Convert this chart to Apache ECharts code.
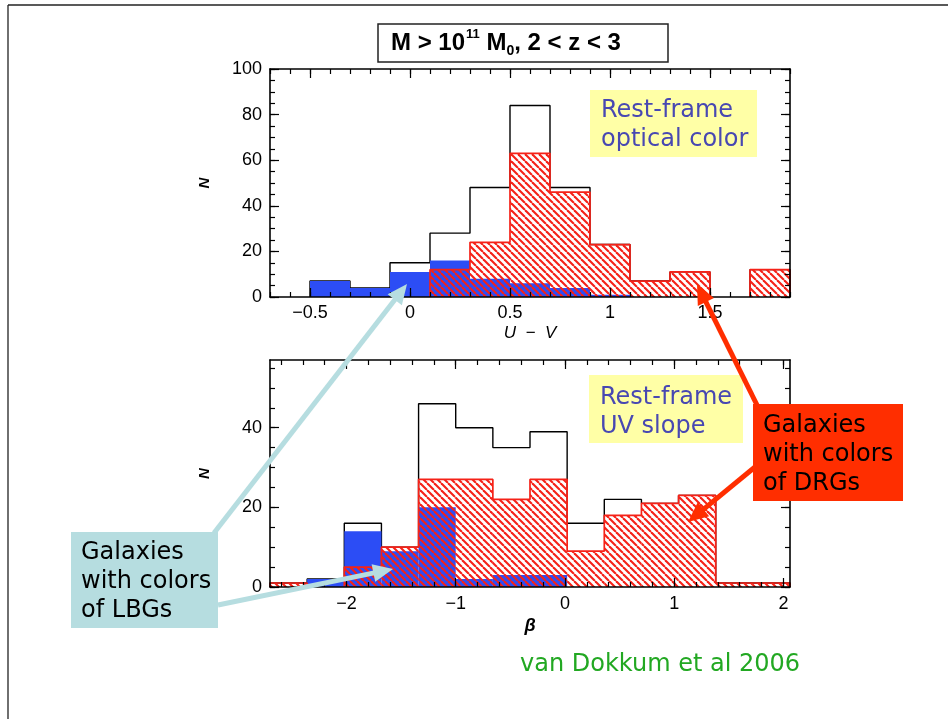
<!DOCTYPE html>
<html>
<head>
<meta charset="utf-8">
<script src="https://cdn.jsdelivr.net/npm/echarts@6/dist/echarts.min.js"></script>
<style>
  html, body { margin: 0; padding: 0; background: #ffffff; }
  #chart { width: 952px; height: 719px; }
</style>
</head>
<body>
<div id="chart"></div>
<script>
// ---- U − V histogram (bin edges, then counts per bin) ----
const uvEdges = [-0.5, -0.3, -0.1, 0.1, 0.3, 0.5, 0.7, 0.9, 1.1, 1.3, 1.5, 1.7, 1.9];
const uvAll   = [7, 4, 15, 28, 48, 84, 48, 23, 7, 11, 0, 12];
const uvLBG   = [7, 4, 11, 16, 8, 6, 4, 1, 0, 0, 0, 0];
const uvDRG   = [0, 0, 0, 12, 24, 63, 46, 23, 7, 11, 0, 12];

// ---- UV slope β histogram ----
const betaEdges = [-2.70, -2.36, -2.02, -1.68, -1.34, -1.00, -0.66, -0.32, 0.02, 0.36, 0.70, 1.04, 1.38, 1.72, 2.06];
const betaAll   = [1, 2, 16, 10, 46, 40, 35, 39, 16, 22, 21, 23, 1, 1];
const betaLBG   = [0, 2, 14, 9, 20, 2, 3, 3, 0, 0, 0, 0, 0, 0];
const betaDRG   = [1, 0, 5, 10, 27, 27, 22, 27, 9, 18, 21, 23, 1, 1];

// ---- tick labels ----
const uvTicks        = [-0.5, 0, 0.5, 1, 1.5];
const betaTicks      = [-2, -1, 0, 1, 2];
const uvCountTicks   = [0, 20, 40, 60, 80, 100];
const betaCountTicks = [0, 20, 40];

const BLUE = '#2c4df5';
const RED = '#f52218';

// diagonal "\" hatching used for the DRG bins
function hatchPattern() {
  const s = 7;
  const c = document.createElement('canvas');
  c.width = s; c.height = s;
  const g = c.getContext('2d');
  g.strokeStyle = RED;
  g.lineWidth = 2.1;
  for (let k = -1; k <= 1; k++) {
    g.beginPath();
    g.moveTo(k * s, 0);
    g.lineTo(k * s + s, s);
    g.stroke();
  }
  return { image: c, repeat: 'repeat' };
}
const HATCH = hatchPattern();

function minorRange(a, b, step) {
  const out = [];
  const n = Math.round((b - a) / step);
  for (let i = 0; i <= n; i++) out.push(+(a + i * step).toFixed(4));
  return out;
}

const fmt = v => (v < 0 ? '\u2212' + Math.abs(v) : String(v));

// bins as [left, right, count] rows
function bins(edges, counts) {
  return counts.map((c, i) => [edges[i], edges[i + 1], c]);
}

// step outline, split into runs of non-empty bins
function outlineRuns(edges, counts) {
  const runs = [];
  let cur = null;
  counts.forEach((c, i) => {
    if (c > 0) {
      if (!cur) { cur = [[edges[i], 0]]; }
      cur.push([edges[i], c], [edges[i + 1], c]);
    } else if (cur) {
      cur.push([cur[cur.length - 1][0], 0]);
      runs.push(cur); cur = null;
    }
  });
  if (cur) { cur.push([cur[cur.length - 1][0], 0]); runs.push(cur); }
  return runs;
}

function rectItem(fill) {
  return function (params, api) {
    const p0 = api.coord([api.value(0), api.value(2)]);
    const p1 = api.coord([api.value(1), 0]);
    return {
      type: 'rect',
      shape: { x: p0[0], y: p0[1], width: p1[0] - p0[0], height: p1[1] - p0[1] },
      style: { fill: fill, stroke: null }
    };
  };
}

function panelSeries(axisIdx, edges, all, lbg, drg) {
  const out = [];
  outlineRuns(edges, all).forEach(run => out.push({
    type: 'line', xAxisIndex: axisIdx, yAxisIndex: axisIdx, data: run,
    symbol: 'none', silent: true, z: 1, animation: false,
    lineStyle: { color: '#000', width: 1.4 }
  }));
  out.push({
    type: 'custom', xAxisIndex: axisIdx, yAxisIndex: axisIdx, z: 2, silent: true,
    encode: { x: [0, 1], y: 2 }, data: bins(edges, lbg).filter(b => b[2] > 0),
    renderItem: rectItem(BLUE), animation: false
  });
  out.push({
    type: 'custom', xAxisIndex: axisIdx, yAxisIndex: axisIdx, z: 3, silent: true,
    encode: { x: [0, 1], y: 2 }, data: bins(edges, drg).filter(b => b[2] > 0),
    renderItem: rectItem(HATCH), animation: false
  });
  outlineRuns(edges, drg).forEach(run => out.push({
    type: 'line', xAxisIndex: axisIdx, yAxisIndex: axisIdx, data: run,
    symbol: 'none', silent: true, z: 4, animation: false,
    lineStyle: { color: RED, width: 1.7 }
  }));
  return out;
}

const lineStyle = { color: '#000', width: 1.6 };
const tickStyle = { color: '#000', width: 1.2 };

function axisSet(dim, grid, min, max, majors, minors, label, name) {
  const sides = dim === 'x' ? ['bottom', 'top'] : ['left', 'right'];
  const axes = [];
  sides.forEach((pos, si) => {
    axes.push({
      type: 'value', gridIndex: grid, position: pos, min: min, max: max, z: 10,
      axisLine: { show: true, onZero: false, lineStyle: lineStyle },
      axisTick: { show: true, inside: true, length: 9, customValues: majors, lineStyle: tickStyle },
      axisLabel: si === 0 ? Object.assign({ show: true, customValues: majors, formatter: fmt }, label)
                          : { show: false },
      splitLine: { show: false },
      name: si === 0 ? name.text : '',
      nameLocation: 'middle', nameGap: name.gap, nameTextStyle: name.style
    });
    axes.push({
      type: 'value', gridIndex: grid, position: pos, min: min, max: max, z: 10,
      axisLine: { show: false, onZero: false },
      axisTick: { show: true, inside: true, length: 5, customValues: minors, lineStyle: tickStyle },
      axisLabel: { show: false }, splitLine: { show: false }
    });
  });
  return axes;
}

const tickFont = { fontFamily: 'Liberation Sans, Arial, sans-serif', fontSize: 18, color: '#000' };
const nStyle = { fontFamily: 'Liberation Sans, Arial, sans-serif', fontSize: 15, fontStyle: 'italic', fontWeight: 'bold', color: '#000' };

const xAxes = [].concat(
  axisSet('x', 0, -0.7, 1.9, uvTicks, minorRange(-0.7, 1.9, 0.1),
    Object.assign({ margin: 7 }, tickFont),
    { text: 'U  \u2212  V', gap: 28, style: { fontFamily: 'Liberation Sans, Arial, sans-serif', fontSize: 17, fontStyle: 'italic', color: '#000' } }),
  axisSet('x', 1, -2.7, 2.06, betaTicks, minorRange(-2.6, 2.0, 0.2),
    Object.assign({ margin: 8 }, tickFont),
    { text: '\u03B2', gap: 30, style: { fontFamily: 'Liberation Sans, Arial, sans-serif', fontSize: 18, fontStyle: 'italic', fontWeight: 'bold', color: '#000' } })
);
const yAxes = [].concat(
  axisSet('y', 0, 0, 100, uvCountTicks, minorRange(0, 100, 5),
    Object.assign({ margin: 8 }, tickFont),
    { text: 'N', gap: 58, style: nStyle }),
  axisSet('y', 1, 0, 57, betaCountTicks, minorRange(0, 55, 5),
    Object.assign({ margin: 8 }, tickFont),
    { text: 'N', gap: 58, style: nStyle })
);

// annotation arrows (line + triangular head)
function arrow(x1, y1, x2, y2, color, w, L, H) {
  const dx = x2 - x1, dy = y2 - y1, len = Math.hypot(dx, dy);
  const ux = dx / len, uy = dy / len, nx = -uy, ny = ux;
  const bx = x2 - ux * L, by = y2 - uy * L;
  return [
    { type: 'line', z: 50, shape: { x1: x1, y1: y1, x2: bx + ux * 2, y2: by + uy * 2 },
      style: { stroke: color, lineWidth: w } },
    { type: 'polygon', z: 51, shape: { points: [[x2, y2], [bx + nx * H, by + ny * H], [bx - nx * H, by - ny * H]] },
      style: { fill: color } }
  ];
}

const slideFont = 'DejaVu Sans, Verdana, sans-serif';
const CYAN = '#b6dde0';
const ORANGE = '#ff2e00';

const graphics = [
  // slide frame
  { type: 'line', z: 60, shape: { x1: 8, y1: 5, x2: 948, y2: 5 }, style: { stroke: '#222', lineWidth: 1.3 } },
  { type: 'line', z: 60, shape: { x1: 8, y1: 5, x2: 8, y2: 719 }, style: { stroke: '#222', lineWidth: 1.3 } },
  // title box
  { type: 'rect', z: 60, shape: { x: 378, y: 24, width: 290, height: 38 },
    style: { fill: '#fff', stroke: '#222', lineWidth: 1.5 } },
  { type: 'text', z: 61, x: 391, y: 43,
    style: {
      text: '{a|M > 10}{s|11}{a| M}{b|0}{a|, 2 < z < 3}',
      verticalAlign: 'middle',
      rich: {
        a: { fontFamily: 'Liberation Sans, Arial, sans-serif', fontWeight: 'bold', fontSize: 24, fill: '#000', lineHeight: 30 },
        s: { fontFamily: 'Liberation Sans, Arial, sans-serif', fontWeight: 'bold', fontSize: 13, fill: '#000', verticalAlign: 'top', lineHeight: 16, padding: [0, 0, 0, 1] },
        b: { fontFamily: 'Liberation Sans, Arial, sans-serif', fontWeight: 'bold', fontSize: 14, fill: '#000', verticalAlign: 'bottom', lineHeight: 16 }
      }
    } },
  // panel captions
  { type: 'rect', z: 40, shape: { x: 590, y: 90, width: 167, height: 67 }, style: { fill: '#ffffa6' } },
  { type: 'text', z: 41, x: 601, y: 125,
    style: { text: 'Rest-frame\noptical color', font: '24px ' + slideFont, fill: '#4848b2', lineHeight: 29, verticalAlign: 'middle' } },
  { type: 'rect', z: 40, shape: { x: 589, y: 375, width: 154, height: 68 }, style: { fill: '#ffffa6' } },
  { type: 'text', z: 41, x: 600, y: 412,
    style: { text: 'Rest-frame\nUV slope', font: '24px ' + slideFont, fill: '#4848b2', lineHeight: 29, verticalAlign: 'middle' } },
  // DRG call-out
  { type: 'rect', z: 55, shape: { x: 753, y: 404, width: 150, height: 97 }, style: { fill: ORANGE } },
  { type: 'text', z: 56, x: 763, y: 455,
    style: { text: 'Galaxies\nwith colors\nof DRGs', font: '24px ' + slideFont, fill: '#000', lineHeight: 29, verticalAlign: 'middle' } },
  // LBG call-out
  { type: 'rect', z: 55, shape: { x: 71, y: 532, width: 147, height: 96 }, style: { fill: CYAN } },
  { type: 'text', z: 56, x: 81, y: 582,
    style: { text: 'Galaxies\nwith colors\nof LBGs', font: '24px ' + slideFont, fill: '#000', lineHeight: 29, verticalAlign: 'middle' } },
  // citation
  { type: 'text', z: 41, x: 520, y: 665,
    style: { text: 'van Dokkum et al 2006', font: '24px ' + slideFont, fill: '#22a822', verticalAlign: 'middle' } }
].concat(
  arrow(214, 533, 407, 284, CYAN, 5, 20, 9),
  arrow(218, 605, 393, 569, CYAN, 5, 20, 9),
  arrow(757, 405, 697, 284, ORANGE, 5, 20, 9),
  arrow(755, 467, 688, 522, ORANGE, 5, 20, 9)
);

const option = {
  backgroundColor: '#ffffff',
  animation: false,
  grid: [
    { left: 270, top: 69, width: 520, height: 228, outerBoundsMode: 'none' },
    { left: 270, top: 360, width: 520, height: 227, outerBoundsMode: 'none' }
  ],
  xAxis: xAxes,
  yAxis: yAxes,
  series: [].concat(
    panelSeries(0, uvEdges, uvAll, uvLBG, uvDRG),
    panelSeries(4, betaEdges, betaAll, betaLBG, betaDRG)
  ),
  graphic: { elements: graphics }
};

const chart = echarts.init(document.getElementById('chart'), null, { renderer: 'canvas' });
chart.setOption(option);
</script>
</body>
</html>
